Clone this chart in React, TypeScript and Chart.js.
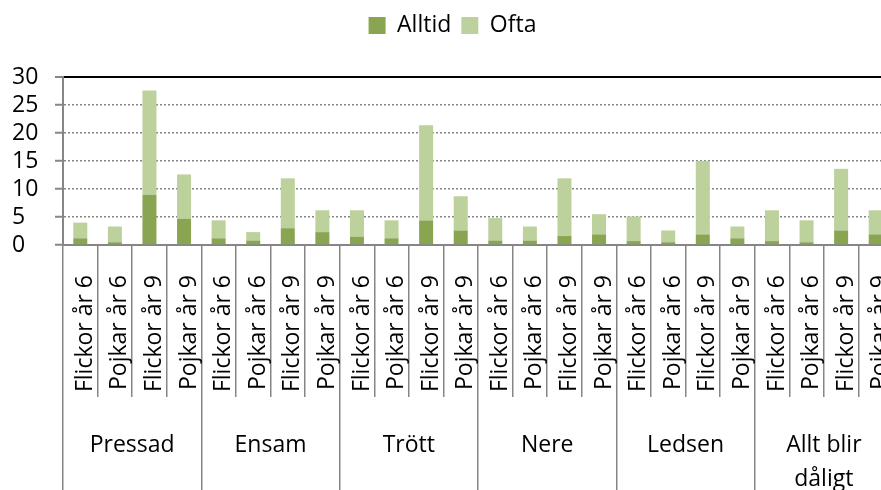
import React, { useEffect, useRef } from 'react';
import { Chart, registerables } from 'chart.js';

Chart.register(...registerables);

// ---- data ----
const groupLabels: (string | string[])[] = ['Pressad', 'Ensam', 'Trött', 'Nere', 'Ledsen', ['Allt blir', 'dåligt']];
const subLabels = ['Flickor år 6', 'Pojkar år 6', 'Flickor år 9', 'Pojkar år 9'];
const categories = groupLabels.flatMap(() => subLabels);

const alltid = [1.2, 0.5, 9.0, 4.7, 1.2, 0.8, 3.0, 2.3, 1.5, 1.2, 4.4, 2.6, 0.8, 0.8, 1.6, 1.9, 0.7, 0.5, 1.9, 1.2, 0.7, 0.5, 2.6, 1.9];
const ofta = [2.8, 2.8, 18.6, 7.9, 3.2, 1.5, 8.9, 3.9, 4.7, 3.2, 17.0, 6.1, 4.0, 2.5, 10.3, 3.6, 4.4, 2.1, 13.1, 2.1, 5.5, 3.9, 11.0, 4.3];

const yMin = 0;
const yMax = 30;
const yStep = 5;

// ---- style ----
const GRAY = '#868686';
const DARK = '#8AA552';
const LIGHT = '#BCD19B';
const FONT = "'Open Sans', sans-serif";
const FS = 23;

export default function App() {
  const ref = useRef<HTMLCanvasElement | null>(null);

  useEffect(() => {
    let chart: Chart | null = null;
    let cancelled = false;
    const make = () => {
      if (cancelled || !ref.current) return;
      const legendSpace = {
        id: 'legendSpace',
        beforeInit(c: any) {
          const orig = c.legend.fit;
          c.legend.fit = function () {
            orig.call(this);
            this.height += 30;
          };
        },
      };
      chart = new Chart(ref.current, {
        type: 'bar',
        data: {
          labels: categories,
          datasets: [
            { label: 'Alltid', data: alltid, backgroundColor: DARK, barPercentage: 0.405, categoryPercentage: 1 },
            { label: 'Ofta', data: ofta, backgroundColor: LIGHT, barPercentage: 0.405, categoryPercentage: 1 },
          ],
        },
        plugins: [legendSpace],
        options: {
          responsive: false,
          animation: false,
          devicePixelRatio: 1,
          layout: { padding: { left: 12, right: 12, top: 4, bottom: 0 } },
          font: { family: FONT, size: FS },
          color: '#000',
          plugins: {
            legend: {
              position: 'top',
              labels: {
                boxWidth: 17,
                boxHeight: 17,
                padding: 10,
                color: '#000',
                font: { family: FONT, size: FS },
              },
            },
            tooltip: { enabled: false },
          },
          scales: {
            x: {
              stacked: true,
              weight: 0,
              z: 1,
              offset: true,
              grid: { offset: true, drawOnChartArea: false, tickLength: 152, color: GRAY, lineWidth: 1.5 },
              border: { color: GRAY, width: 2 },
              ticks: {
                minRotation: 90,
                maxRotation: 90,
                autoSkip: false,
                padding: -122,
                labelOffset: 5,
                color: '#000',
                font: { family: FONT, size: FS },
              },
              afterFit: (s: any) => {
                s.height = 152;
              },
            },
            x2: {
              type: 'category',
              labels: groupLabels as any,
              position: 'bottom',
              weight: 1,
              offset: true,
              min: 0,
              max: groupLabels.length - 1,
              grid: { offset: true, drawOnChartArea: false, tickLength: 93, color: GRAY, lineWidth: 1.5 },
              border: { display: false },
              ticks: {
                maxRotation: 0,
                minRotation: 0,
                autoSkip: false,
                padding: -62,
                color: '#000',
                font: { family: FONT, size: FS, lineHeight: 1.5 },
              },
              afterFit: (s: any) => {
                s.height = 93;
              },
            },
            y: {
              stacked: true,
              min: yMin,
              max: yMax,
              ticks: {
                stepSize: yStep,
                autoSkip: false,
                crossAlign: 'far',
                padding: 4,
                color: '#000',
                font: { family: FONT, size: FS },
              },
              grid: {
                color: (c: any) => (c.tick && c.tick.value === yMax ? '#000' : GRAY),
                lineWidth: (c: any) => (c.tick && c.tick.value === yMax ? 2 : 1.5),
                tickColor: GRAY,
                tickWidth: 2,
                tickLength: 8,
                tickBorderDash: [],
              },
              border: {
                color: GRAY,
                width: 2,
                dash: (c: any) => (c.tick && c.tick.value === yMax ? [] : [2, 2]),
              },
              afterFit: (s: any) => {
                s.width = 51;
              },
            },
          },
        } as any,
      });
    };
    const fontsReady = (document as any).fonts
      ? Promise.all([(document as any).fonts.load(`${FS}px 'Open Sans'`)]).catch(() => null)
      : Promise.resolve(null);
    fontsReady.then(make);
    return () => {
      cancelled = true;
      if (chart) chart.destroy();
    };
  }, []);

  return (
    <div
      style={{
        position: 'fixed',
        left: 0,
        top: 0,
        width: 881,
        height: 490,
        overflow: 'hidden',
        background: '#fff',
      }}
    >
      <canvas ref={ref} width={905} height={490} style={{ width: 905, height: 490, display: 'block' }} />
    </div>
  );
}
